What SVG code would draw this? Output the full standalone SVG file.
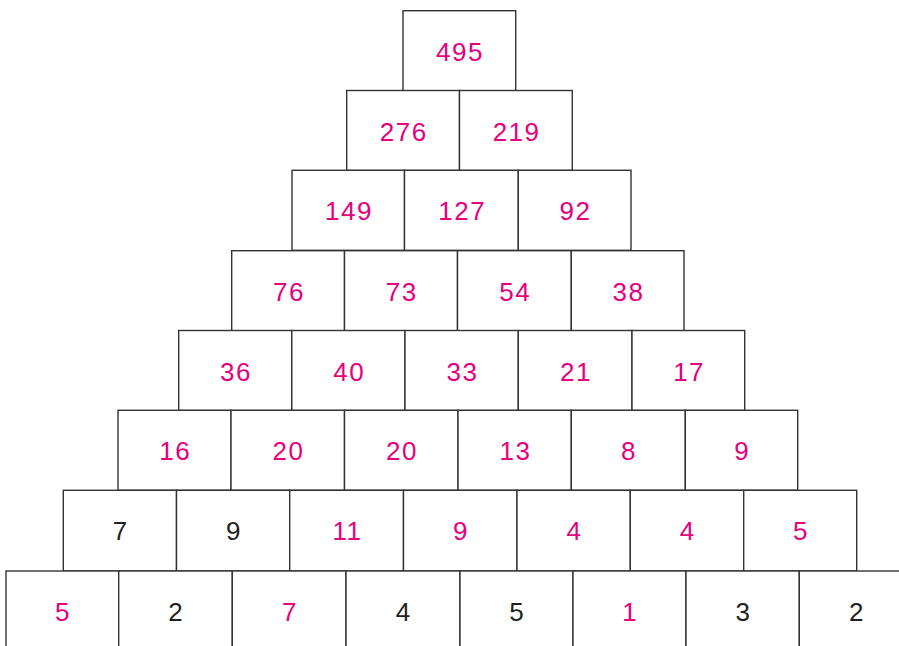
<svg xmlns="http://www.w3.org/2000/svg" width="899" height="646" viewBox="0 0 899 646">
<style>
rect{fill:#fff;stroke:#333;stroke-width:1.4}
text{font-family:"Liberation Sans",Arial,sans-serif;font-size:26px;text-anchor:middle;letter-spacing:1.5px}
.p{fill:#e6007e}
.d{fill:#231f20}
</style>
<rect x="0" y="0" width="899" height="646" style="stroke:none"/>
<g id="r0c0"><rect x="403" y="10.7" width="112.7" height="80"/><text class="p" x="460" y="60.7">495</text></g>
<g id="r1c0"><rect x="346.7" y="90.5" width="112.8" height="80"/><text class="p" x="403.8" y="140.5">276</text></g>
<g id="r1c1"><rect x="459.5" y="90.5" width="112.8" height="80"/><text class="p" x="516.6" y="140.5">219</text></g>
<g id="r2c0"><rect x="292" y="170.3" width="112.5" height="80"/><text class="p" x="349" y="220.3">149</text></g>
<g id="r2c1"><rect x="404.5" y="170.3" width="113.8" height="80"/><text class="p" x="462.2" y="220.3">127</text></g>
<g id="r2c2"><rect x="518.3" y="170.3" width="112.7" height="80"/><text class="p" x="575.4" y="220.3">92</text></g>
<g id="r3c0"><rect x="231.7" y="250.7" width="112.8" height="80"/><text class="p" x="288.9" y="300.7">76</text></g>
<g id="r3c1"><rect x="344.5" y="250.7" width="113" height="80"/><text class="p" x="401.8" y="300.7">73</text></g>
<g id="r3c2"><rect x="457.5" y="250.7" width="113.8" height="80"/><text class="p" x="515.2" y="300.7">54</text></g>
<g id="r3c3"><rect x="571.3" y="250.7" width="112.7" height="80"/><text class="p" x="628.4" y="300.7">38</text></g>
<g id="r4c0"><rect x="178.7" y="330.5" width="113.1" height="80"/><text class="p" x="236" y="380.5">36</text></g>
<g id="r4c1"><rect x="291.8" y="330.5" width="113.2" height="80"/><text class="p" x="349.2" y="380.5">40</text></g>
<g id="r4c2"><rect x="405" y="330.5" width="113.3" height="80"/><text class="p" x="462.4" y="380.5">33</text></g>
<g id="r4c3"><rect x="518.3" y="330.5" width="113.7" height="80"/><text class="p" x="575.9" y="380.5">21</text></g>
<g id="r4c4"><rect x="632" y="330.5" width="112.7" height="80"/><text class="p" x="689.1" y="380.5">17</text></g>
<g id="r5c0"><rect x="118" y="410.3" width="113" height="80"/><text class="p" x="175.3" y="460.3">16</text></g>
<g id="r5c1"><rect x="231" y="410.3" width="113.5" height="80"/><text class="p" x="288.5" y="460.3">20</text></g>
<g id="r5c2"><rect x="344.5" y="410.3" width="113.5" height="80"/><text class="p" x="402" y="460.3">20</text></g>
<g id="r5c3"><rect x="458" y="410.3" width="113.3" height="80"/><text class="p" x="515.4" y="460.3">13</text></g>
<g id="r5c4"><rect x="571.3" y="410.3" width="114" height="80"/><text class="p" x="629" y="460.3">8</text></g>
<g id="r5c5"><rect x="685.3" y="410.3" width="112.4" height="80"/><text class="p" x="742.3" y="460.3">9</text></g>
<g id="r6c0"><rect x="63.3" y="490.3" width="113.2" height="80.7"/><text class="d" x="120.7" y="540.3">7</text></g>
<g id="r6c1"><rect x="176.5" y="490.3" width="113.2" height="80.7"/><text class="d" x="233.9" y="540.3">9</text></g>
<g id="r6c2"><rect x="289.7" y="490.3" width="113.8" height="80.7"/><text class="p" x="347.4" y="540.3">11</text></g>
<g id="r6c3"><rect x="403.5" y="490.3" width="113.5" height="80.7"/><text class="p" x="461" y="540.3">9</text></g>
<g id="r6c4"><rect x="517" y="490.3" width="113.3" height="80.7"/><text class="p" x="574.4" y="540.3">4</text></g>
<g id="r6c5"><rect x="630.3" y="490.3" width="113.4" height="80.7"/><text class="p" x="687.8" y="540.3">4</text></g>
<g id="r6c6"><rect x="743.7" y="490.3" width="113" height="80.7"/><text class="p" x="801" y="540.3">5</text></g>
<g id="r7c0"><rect x="6" y="571" width="112.7" height="80"/><text class="p" x="63.1" y="621">5</text></g>
<g id="r7c1"><rect x="118.7" y="571" width="113.6" height="80"/><text class="d" x="176.3" y="621">2</text></g>
<g id="r7c2"><rect x="232.3" y="571" width="113.7" height="80"/><text class="p" x="289.9" y="621">7</text></g>
<g id="r7c3"><rect x="346" y="571" width="114" height="80"/><text class="d" x="403.8" y="621">4</text></g>
<g id="r7c4"><rect x="460" y="571" width="113" height="80"/><text class="d" x="517.3" y="621">5</text></g>
<g id="r7c5"><rect x="573" y="571" width="113" height="80"/><text class="p" x="630.3" y="621">1</text></g>
<g id="r7c6"><rect x="686" y="571" width="113.3" height="80"/><text class="d" x="743.4" y="621">3</text></g>
<g id="r7c7"><rect x="799.3" y="571" width="113.7" height="80"/><text class="d" x="856.9" y="621">2</text></g>
</svg>
